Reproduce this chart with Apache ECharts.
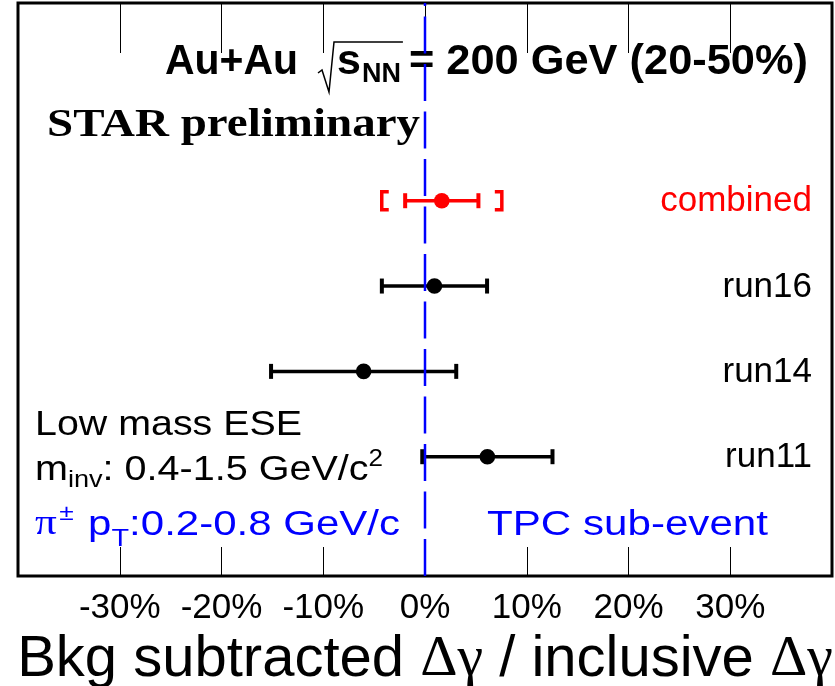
<!DOCTYPE html>
<html><head><meta charset="utf-8">
<script src="https://cdn.jsdelivr.net/npm/echarts@6/dist/echarts.min.js"></script>
<style>html,body{margin:0;padding:0;background:#fff}#c{width:835px;height:686px}</style>
</head><body><div id="c"></div>
<script>
// ---- data ----
const categories = ['combined', 'run16', 'run14', 'run11'];
const rowPos = [4, 3, 2, 1];
const values = [1.65, 0.93, -6.03, 6.13];
const statErr = [3.6, 5.17, 9.1, 6.4];
const sysErr = [5.9, 0, 0, 0];
const rowColors = ['#ff0000', '#000000', '#000000', '#000000'];
const xTicks = [-30, -20, -10, 0, 10, 20, 30];
const xMin = -40, xMax = 40;
const yMin = -0.398, yMax = 6.317;

const SANS = '"Liberation Sans", Arial, sans-serif';
const SERIF = '"Liberation Serif", "Times New Roman", serif';
const mctx = document.createElement('canvas').getContext('2d');
function seq(x, y, parts, targetW) {
  const els = []; let cx = 0;
  parts.forEach(p => {
    const font = (p.w || 'normal') + ' ' + p.s + 'px ' + (p.f || SANS);
    mctx.font = font;
    const w = mctx.measureText(p.t).width;
    cx += (p.dx || 0);
    els.push({type: 'text', x: cx, y: (p.dy || 0),
      style: {text: p.t, font: font, fill: p.c || '#000', verticalAlign: 'middle', align: 'left'}});
    cx += w;
  });
  const sc = targetW ? targetW / cx : 1;
  return {el: {type: 'group', x: x, y: y, scaleX: sc, z: 1, children: els}, end: x + cx * sc};
}

const chart = echarts.init(document.getElementById('c'), null, {renderer: 'canvas'});

const graphics = [];
const t1 = seq(165, 62, [{t: 'Au+Au', s: 43, w: 'bold'}], 133);
graphics.push(t1.el);
const rx = t1.end + 22;
const t2 = seq(rx + 17, 62, [{t: 's', s: 43, w: 'bold'}, {t: 'NN', s: 27, w: 'bold', dy: 13, dx: 1}]);
graphics.push(t2.el);
graphics.push({type: 'polyline', z: 1, shape: {points: [[rx - 2, 73], [rx + 2, 70], [rx + 9, 92], [rx + 14, 42], [t2.end + 2, 42]]},
  style: {stroke: '#000', lineWidth: 1.5, fill: null}});
const t3 = seq(t2.end + 8, 62, [{t: '= 200 GeV (20-50%)', s: 43, w: 'bold'}], 808 - t2.end - 8);
graphics.push(t3.el);

graphics.push(seq(47, 126, [{t: 'STAR preliminary', s: 40, w: 'bold', f: SERIF}], 373).el);

graphics.push(seq(35, 425, [{t: 'Low mass ESE', s: 35}], 267).el);
graphics.push(seq(35, 470, [{t: 'm', s: 35}, {t: 'inv', s: 24, dy: 10}, {t: ': 0.4-1.5 GeV/c', s: 35}, {t: '2', s: 23, dy: -10}], 348).el);
graphics.push(seq(35, 525, [{t: 'π', s: 36, f: SERIF, c: '#0000ff'}, {t: '±', s: 22, dy: -11, dx: 2, c: '#0000ff'},
  {t: 'p', s: 35, dx: 12, c: '#0000ff'}, {t: 'T', s: 24, dy: 14, c: '#0000ff'}, {t: ':0.2-0.8 GeV/c', s: 35, c: '#0000ff'}], 365).el);
graphics.push(seq(487, 525, [{t: 'TPC sub-event', s: 35, c: '#0000ff'}], 281).el);

const pointData = categories.map((c, i) => [rowPos[i], values[i], statErr[i], sysErr[i]]);

const option = {
  backgroundColor: '#fff',
  animation: false,
  grid: {left: 18, right: 3, top: 3, bottom: 110, show: true, borderColor: '#000', borderWidth: 3,
    backgroundColor: '#fff', outerBoundsMode: 'none', containLabel: false},
  xAxis: [{
    type: 'value', min: xMin, max: xMax, interval: 10, position: 'bottom',
    axisLine: {show: false, onZero: false}, splitLine: {show: false},
    axisTick: {show: true, inside: true, length: 29, lineStyle: {color: '#000', width: 1}},
    axisLabel: {margin: 15, fontSize: 35, color: '#000', fontFamily: SANS,
      formatter: v => xTicks.indexOf(v) >= 0 ? v + '%' : ''},
    name: 'Bkg subtracted {g|Δγ} / inclusive {g|Δγ}', nameLocation: 'middle', nameGap: 43,
    nameTextStyle: {fontSize: 58, color: '#000', fontFamily: SANS,
      rich: {g: {fontSize: 58, fontFamily: SERIF, color: '#000'}}}
  }, {
    type: 'value', min: xMin, max: xMax, interval: 10, position: 'top',
    axisLine: {show: false, onZero: false}, splitLine: {show: false}, axisLabel: {show: false},
    axisTick: {show: true, inside: true, length: 50, lineStyle: {color: '#000', width: 1}}
  }],
  yAxis: {type: 'value', min: yMin, max: yMax, show: false},
  graphic: graphics,
  series: [{
    type: 'custom', z: 5,
    data: pointData,
    encode: {x: 1, y: 0},
    renderItem: function (params, api) {
      const i = params.dataIndex;
      const y = api.value(0), v = api.value(1), e = api.value(2), s = api.value(3);
      const col = rowColors[i];
      const c = api.coord([v, y]);
      const lo = api.coord([v - e, y]), hi = api.coord([v + e, y]);
      const ch = [
        {type: 'line', shape: {x1: lo[0], y1: c[1], x2: hi[0], y2: c[1]}, style: {stroke: col, lineWidth: 3.5}},
        {type: 'line', shape: {x1: lo[0], y1: c[1] - 7.5, x2: lo[0], y2: c[1] + 7.5}, style: {stroke: col, lineWidth: 4}},
        {type: 'line', shape: {x1: hi[0], y1: c[1] - 7.5, x2: hi[0], y2: c[1] + 7.5}, style: {stroke: col, lineWidth: 4}},
        {type: 'circle', shape: {cx: c[0], cy: c[1], r: 7.8}, style: {fill: col}}
      ];
      if (s > 0) {
        const sl = api.coord([v - s, y]), sh = api.coord([v + s, y]);
        ch.push({type: 'polyline', shape: {points: [[sl[0] + 7, c[1] - 9], [sl[0], c[1] - 9], [sl[0], c[1] + 9], [sl[0] + 7, c[1] + 9]]},
          style: {stroke: col, lineWidth: 3.5, fill: null}});
        ch.push({type: 'polyline', shape: {points: [[sh[0] - 7, c[1] - 9], [sh[0], c[1] - 9], [sh[0], c[1] + 9], [sh[0] - 7, c[1] + 9]]},
          style: {stroke: col, lineWidth: 3.5, fill: null}});
      }
      ch.push({type: 'text', x: params.coordSys.x + params.coordSys.width - 20, y: c[1] + 1,
        style: {text: categories[i], fill: col, font: '35px ' + SANS, align: 'right', verticalAlign: 'middle'}});
      return {type: 'group', children: ch};
    }
  }, {
    type: 'line', z: 10, silent: true, showSymbol: false,
    data: [[0, yMin], [0, yMax]],
    lineStyle: {color: '#0000ff', width: 2.5, type: [37, 10.5]}
  }]
};
chart.setOption(option);
</script></body></html>
